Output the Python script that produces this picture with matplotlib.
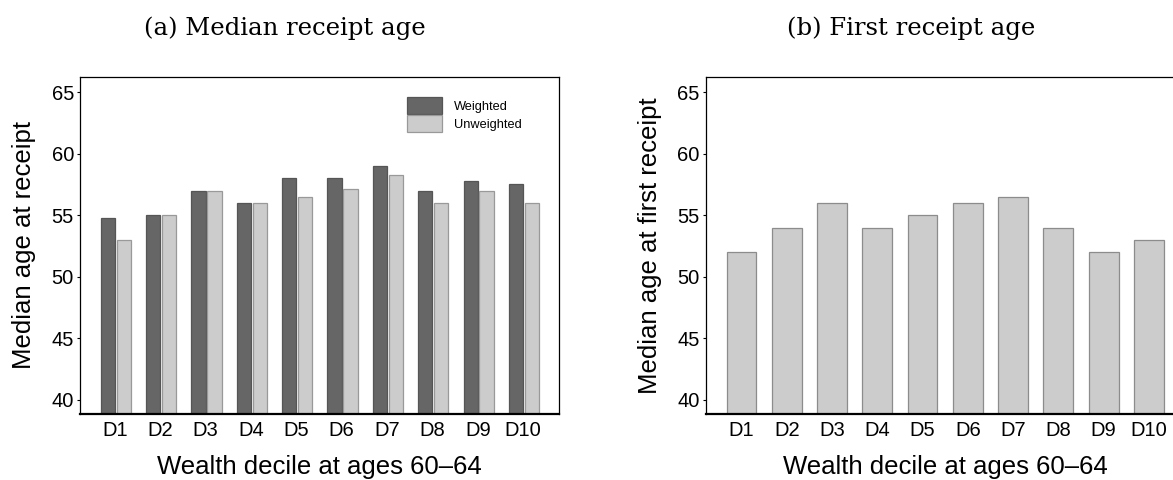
import matplotlib
matplotlib.use("Agg")
import matplotlib.pyplot as plt
import numpy as np

deciles = ["D1", "D2", "D3", "D4", "D5", "D6", "D7", "D8", "D9", "D10"]
median_weighted = [54.75, 55.0, 57.0, 56.0, 58.0, 58.0, 59.0, 57.0, 57.75, 57.55]
median_unweighted = [53.0, 55.0, 57.0, 56.0, 56.5, 57.15, 58.25, 56.0, 57.0, 56.0]
first_receipt = [52.0, 54.0, 56.0, 54.0, 55.0, 56.0, 56.5, 54.0, 52.0, 53.0]

DARK = "#666666"
LIGHT = "#cccccc"
W, H = 1173, 480

plt.rcParams["font.family"] = ["Liberation Sans", "DejaVu Sans"]

fig = plt.figure(figsize=(W / 100, H / 100), dpi=100)
ax1 = fig.add_axes([80 / W, 66 / H, 479 / W, 337.5 / H])
ax2 = fig.add_axes([705.7 / W, 66 / H, 479.8 / W, 337.5 / H])

x = np.arange(1, len(deciles) + 1)

# (a) weighted vs unweighted, tick sits on the edge between the pair
ax1.bar(x - 0.315, median_weighted, width=0.315, align="edge", color=DARK,
        edgecolor="#555555", linewidth=0.9, label="Weighted", zorder=2)
ax1.bar(x + 0.035, median_unweighted, width=0.315, align="edge", color=LIGHT,
        edgecolor="#999999", linewidth=0.9, label="Unweighted", zorder=2)
ax1.set_xlim(0.23, 10.79)

# (b) single series
ax2.bar(x, first_receipt, width=0.66, color=LIGHT, edgecolor="#8c8c8c",
        linewidth=0.9, zorder=2)
ax2.set_xlim(0.21, 10.81)

ylabels = ["Median age at receipt", "Median age at first receipt"]
for ax, lab in zip((ax1, ax2), ylabels):
    ax.set_ylim(38.86, 66.28)
    ax.set_yticks([40, 45, 50, 55, 60, 65])
    ax.set_xticks(x)
    ax.set_xticklabels(deciles)
    ax.tick_params(axis="y", direction="out", length=2.4, width=0.8,
                   labelsize=14.5, pad=2)
    ax.tick_params(axis="x", direction="in", length=1.8, width=0.8,
                   labelsize=14.5, pad=5)
    for side in ("left", "right", "top"):
        ax.spines[side].set_linewidth(0.9)
    ax.spines["bottom"].set_linewidth(1.6)
    ax.set_ylabel(lab, fontsize=18.5, va="center")
    ax.yaxis.set_label_coords(-56 / 479, 0.5)
    ax.set_xlabel("Wealth decile at ages 60\u201364", fontsize=18.5, va="center")
    ax.xaxis.set_label_coords(0.5, -53 / 337.5)

leg = ax1.legend(loc="upper left", bbox_to_anchor=((407 - 80) / 479, (414 - 97) / 337.5),
                 frameon=False, fontsize=9.2, handlelength=2.75, handleheight=1.7,
                 labelspacing=0.05, handletextpad=0.95, borderpad=0,
                 borderaxespad=0)

fig.text(285 / W, 1 - 28 / H, "(a) Median receipt age", family="DejaVu Serif",
         fontsize=17.6, ha="center", va="center")
fig.text(911 / W, 1 - 28 / H, "(b) First receipt age", family="DejaVu Serif",
         fontsize=17.6, ha="center", va="center")

fig.savefig("out.png", dpi=100)
